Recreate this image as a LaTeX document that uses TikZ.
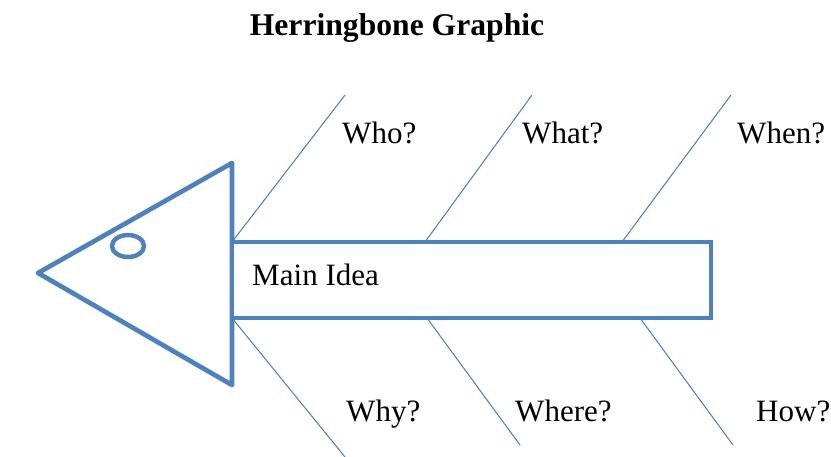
\documentclass[tikz,border=0pt]{standalone}
\usepackage{fontspec}
\setmainfont{Liberation Serif}
\usetikzlibrary{calc}
\definecolor{fisch}{RGB}{79,129,189}
\tikzset{
	bone/.style={fisch,line width=0.9pt},
	frage/.style={inner sep=0,anchor=base west,font=\fontsize{26.5}{30}\selectfont}
}

\begin{document}
\begin{tikzpicture}[x=0.03cm,y=-0.03cm]
	\useasboundingbox (0,0) rectangle (831,457);
	\node[name=T,inner sep=0,anchor=base,font=\fontsize{27}{32}\selectfont\bfseries] at (397,36) {Herringbone Graphic};
	% Kopf
	\draw[fisch,fill=white,line width=4pt,line join=round] (38,273) coordinate (S) -- (232,163) coordinate (K1) -- (232,385) coordinate (K2) -- cycle;
	\draw[fisch,line width=3.8pt] (128,246) ellipse (16 and 11);
	% Koerper
	\node[name=M,draw=fisch,fill=white,line width=3.8pt,inner sep=0,outer sep=0,minimum width=14.37cm,minimum height=2.28cm,anchor=north west] at (232,242) {};
	\node[name=MI,frage] at (252,286) {Main Idea};
	% Graeten oben
	\coordinate (O1) at (345,95);
	\coordinate (O2) at (532,95);
	\coordinate (O3) at (731,95);
	\draw[bone] (M.north west) -- (O1);
	\draw[bone] ($(M.north west)+(193,0)$) -- (O2);
	\draw[bone] ($(M.north west)+(390,0)$) -- (O3);
	\node[name=F1,frage] at (342,144) {Who?};
	\node[name=F2,frage] at (522,144) {What?};
	\node[name=F3,frage] at (737,144) {When?};
	% Graeten unten
	\coordinate (U1) at (345,457);
	\coordinate (U2) at (520,445);
	\coordinate (U3) at (733,445);
	\draw[bone] (M.south west) -- (U1);
	\draw[bone] ($(M.south west)+(195,0)$) -- (U2);
	\draw[bone] ($(M.south west)+(408,0)$) -- (U3);
	\node[name=F4,frage] at (346,421) {Why?};
	\node[name=F5,frage] at (515,421) {Where?};
	\node[name=F6,frage] at (756,421) {How?};
\end{tikzpicture}
\end{document}
